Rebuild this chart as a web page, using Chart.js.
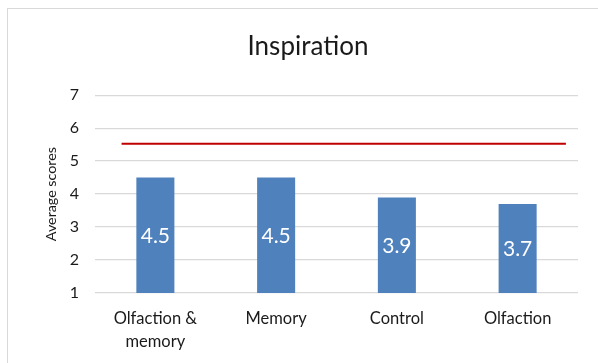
<!DOCTYPE html>
<html>
<head>
<meta charset="utf-8">
<script src="https://cdn.jsdelivr.net/npm/chart.js@4"></script>
<style>
  html, body { margin: 0; padding: 0; background: #fff; overflow: hidden; }
  #wrap { position: relative; width: 598px; height: 363px; overflow: hidden; }
  #frame {
    position: absolute; left: 7px; top: 8px; width: 700px; height: 500px;
    border-left: 1px solid #d9d9d9; border-top: 1px solid #d9d9d9;
  }
  #graficoInspiracao { position: absolute; left: 0; top: 0; }
</style>
</head>
<body>
<div id="wrap">
  <div id="frame"></div>
  <canvas id="graficoInspiracao" width="616" height="363"></canvas>
</div>
<script>
// Categorias e médias
const grupos = [["Olfaction &", "memory"], "Memory", "Control", "Olfaction"];
const medias = [4.5, 4.5, 3.9, 3.7];

// Linha de referência (posição x numa escala 0–4 por categoria)
const refInicioFim = [0.22, 3.9];
const refValor = 5.53;

const ticksY = [1, 2, 3, 4, 5, 6, 7];

const fonte = "Lato, 'Open Sans', sans-serif";

// Escreve o valor no meio da parte visível de cada barra
const rotulosBarras = {
  id: "rotulosBarras",
  afterDatasetsDraw(chart) {
    const meta = chart.getDatasetMeta(0);
    const ctx = chart.ctx;
    const fundo = chart.chartArea.bottom;
    ctx.save();
    ctx.fillStyle = "#ffffff";
    ctx.font = "21px " + fonte;
    ctx.textAlign = "center";
    ctx.textBaseline = "middle";
    meta.data.forEach((barra, i) => {
      const base = Math.min(barra.base, fundo);
      ctx.fillText(medias[i].toFixed(1), barra.x, (barra.y + base) / 2 + 1);
    });
    ctx.restore();
  }
};

const ctx = document.getElementById("graficoInspiracao").getContext("2d");
new Chart(ctx, {
  type: "bar",
  data: {
    labels: grupos,
    datasets: [
      {
        type: "bar",
        data: medias,
        backgroundColor: "#4f81bd",
        barPercentage: 1,
        categoryPercentage: 0.315,
        grouped: false,
        xAxisID: "x",
        yAxisID: "y"
      },
      {
        type: "line",
        data: refInicioFim.map(x => ({ x: x, y: refValor })),
        borderColor: "#c00000",
        borderWidth: 2,
        pointRadius: 0,
        fill: false,
        xAxisID: "x2",
        yAxisID: "y"
      }
    ]
  },
  options: {
    responsive: false,
    animation: false,
    layout: { padding: { left: 0, right: 0, top: 0, bottom: 0 } },
    plugins: {
      legend: { display: false },
      tooltip: { enabled: false },
      title: {
        display: true,
        text: "Inspiration",
        color: "#1a1a1a",
        font: { family: fonte, size: 26, weight: "normal", lineHeight: 1.2 },
        padding: { top: 31, bottom: 33 }
      }
    },
    scales: {
      x: {
        type: "category",
        afterFit: s => { s.height = 70; },
        grid: { display: false, drawTicks: false },
        border: { display: false },
        ticks: {
          color: "#1a1a1a",
          font: { family: fonte, size: 16.5, lineHeight: "23px" },
          padding: 14,
          maxRotation: 0,
          autoSkip: false
        }
      },
      x2: {
        type: "linear",
        min: 0,
        max: 4,
        offset: false,
        display: false
      },
      y: {
        type: "linear",
        position: "left",
        min: 1,
        max: 7,
        afterBuildTicks: s => { s.ticks = ticksY.map(v => ({ value: v })); },
        afterFit: s => { s.width = 95; },
        grid: { color: "#d9d9d9", lineWidth: 1.3, drawTicks: false },
        border: { display: false },
        ticks: {
          color: "#1a1a1a",
          font: { family: fonte, size: 16 },
          padding: 16
        },
        title: {
          display: true,
          text: "Average scores",
          color: "#1a1a1a",
          font: { family: fonte, size: 14.3 },
          padding: { top: 43, bottom: 0 }
        }
      },
      yDireita: {
        type: "linear",
        position: "right",
        display: true,
        afterFit: s => { s.width = 38; },
        grid: { display: false, drawTicks: false },
        border: { display: false },
        ticks: { display: false }
      }
    }
  },
  plugins: [rotulosBarras]
});
</script>
</body>
</html>
